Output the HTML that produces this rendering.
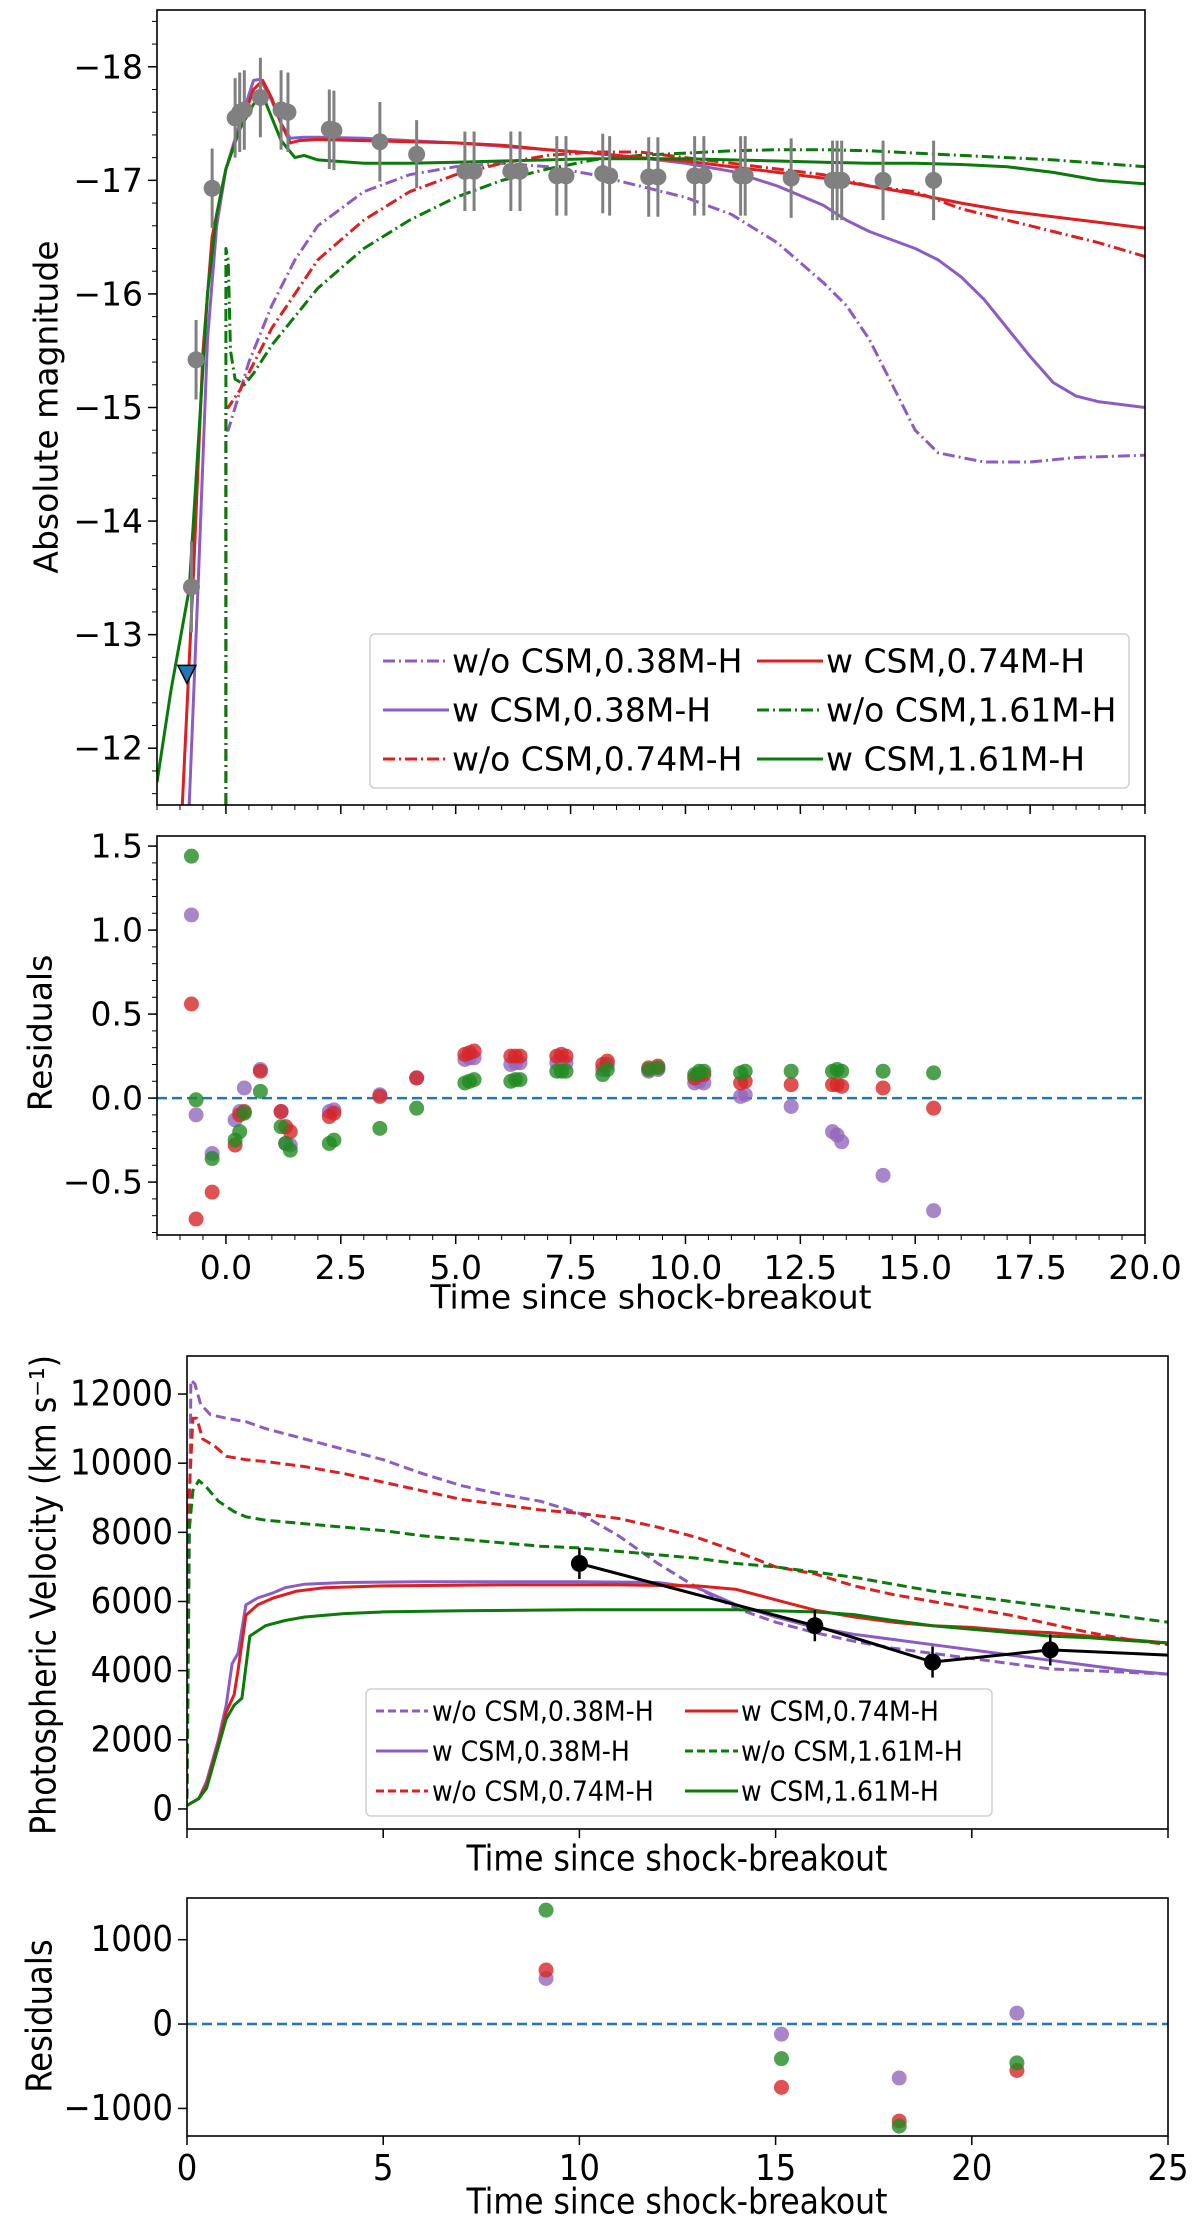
<!DOCTYPE html>
<html><head><meta charset="utf-8"><style>
html,body{margin:0;padding:0;background:#fff;}
svg{display:block;font-family:"DejaVu Sans","Liberation Sans",sans-serif;}
.cond{font-family:"DejaVu Sans Condensed","DejaVu Sans","Liberation Sans Narrow",sans-serif;}
</style></head><body>
<svg id="fig" width="1200" height="2224" viewBox="0 0 1200 2224" xmlns="http://www.w3.org/2000/svg"></svg>
<script>
// ---------- Panel 1 data: light curves ----------
const obsT = [-0.75,-0.65,-0.3,0.2,0.3,0.4,0.75,1.2,1.35,2.25,2.35,3.35,4.15,5.2,5.4,6.2,6.4,7.2,7.4,8.2,8.35,9.2,9.4,10.2,10.4,11.2,11.3,12.3,13.2,13.3,13.4,14.3,15.4];
const obsMag = [-13.42,-15.42,-16.93,-17.55,-17.6,-17.62,-17.73,-17.62,-17.6,-17.45,-17.44,-17.34,-17.23,-17.08,-17.08,-17.08,-17.08,-17.04,-17.04,-17.06,-17.04,-17.03,-17.03,-17.04,-17.04,-17.04,-17.04,-17.02,-17.0,-17.0,-17.0,-17.0,-17.0];
const obsErr = [0.4,0.35,0.35,0.35,0.35,0.35,0.35,0.35,0.35,0.35,0.35,0.35,0.3,0.35,0.35,0.35,0.35,0.35,0.35,0.35,0.35,0.35,0.35,0.35,0.35,0.35,0.35,0.35,0.35,0.35,0.35,0.35,0.35];
const limitT = [-0.85];
const limitMag = [-12.65];
const lcWo038 = [[0,-11.5],[0,-14.8],[0.05,-14.8],[0.5,-15.4],[1,-15.9],[1.5,-16.3],[2,-16.6],[3,-16.9],[4,-17.05],[5,-17.12],[6,-17.15],[7,-17.12],[8,-17.05],[9,-16.95],[10,-16.85],[11,-16.7],[12,-16.45],[13,-16.1],[13.5,-15.9],[14,-15.6],[14.5,-15.2],[15,-14.8],[15.5,-14.6],[16.5,-14.52],[17.5,-14.52],[18.5,-14.56],[20,-14.58]];
const lcWo074 = [[0,-11.5],[0,-15.0],[0.05,-15.0],[0.3,-15.15],[1,-15.7],[2,-16.3],[3,-16.65],[4,-16.9],[5,-17.05],[6,-17.15],[7,-17.22],[8,-17.25],[9,-17.25],[10,-17.2],[11,-17.15],[12,-17.1],[13,-17.05],[14,-16.95],[15,-16.9],[16,-16.75],[17,-16.65],[18,-16.55],[19,-16.45],[20,-16.33]];
const lcWo161 = [[0,-11.5],[0,-16.4],[0.05,-16.3],[0.1,-15.5],[0.2,-15.25],[0.4,-15.2],[0.6,-15.3],[1,-15.55],[2,-16.05],[3,-16.4],[4,-16.65],[5,-16.85],[6,-17.0],[7,-17.1],[8,-17.18],[9,-17.22],[10,-17.24],[11,-17.26],[12,-17.27],[13,-17.27],[14,-17.26],[15,-17.24],[16,-17.22],[17,-17.2],[18,-17.18],[19,-17.15],[20,-17.12]];
const lcW038 = [[-0.8,-11.5],[-0.6,-13.5],[-0.4,-15.6],[-0.2,-16.6],[0,-17.1],[0.3,-17.5],[0.6,-17.88],[0.75,-17.89],[1,-17.7],[1.2,-17.5],[1.4,-17.37],[1.7,-17.38],[2,-17.38],[3,-17.37],[4,-17.35],[5,-17.33],[6,-17.3],[7,-17.27],[8,-17.24],[9,-17.2],[10,-17.15],[11,-17.08],[12,-16.95],[13,-16.78],[13.5,-16.65],[14,-16.55],[15,-16.4],[15.5,-16.3],[16,-16.15],[16.5,-15.95],[17,-15.7],[17.5,-15.45],[18,-15.22],[18.5,-15.1],[19,-15.05],[20,-15.0]];
const lcW074 = [[-0.95,-11.5],[-0.7,-13.6],[-0.5,-15.5],[-0.3,-16.5],[0,-17.1],[0.3,-17.45],[0.6,-17.8],[0.8,-17.88],[1,-17.72],[1.2,-17.5],[1.4,-17.33],[1.6,-17.35],[2,-17.36],[3,-17.35],[4,-17.34],[5,-17.33],[6,-17.31],[7,-17.27],[8,-17.24],[9,-17.2],[10,-17.17],[11,-17.12],[12,-17.07],[13,-17.02],[14,-16.95],[15,-16.88],[16,-16.8],[17,-16.73],[18,-16.68],[19,-16.63],[20,-16.58]];
const lcW161 = [[-1.5,-11.7],[-1.2,-12.5],[-0.8,-13.4],[-0.6,-14.7],[-0.4,-16.0],[-0.2,-16.7],[0,-17.1],[0.3,-17.45],[0.6,-17.67],[0.8,-17.75],[1,-17.55],[1.2,-17.35],[1.5,-17.2],[1.7,-17.22],[2,-17.18],[3,-17.15],[4,-17.15],[5,-17.16],[6,-17.17],[7,-17.18],[8,-17.19],[9,-17.19],[10,-17.19],[11,-17.18],[12,-17.17],[13,-17.16],[14,-17.15],[15,-17.15],[16,-17.14],[17,-17.12],[18,-17.07],[19,-17.0],[20,-16.97]];
// ---------- Panel 2 data: magnitude residuals ----------
const resT = [-0.75,-0.65,-0.3,0.2,0.3,0.4,0.75,1.2,1.3,1.4,2.25,2.35,3.35,4.15,5.2,5.3,5.4,6.2,6.3,6.4,7.2,7.3,7.4,8.2,8.3,9.2,9.4,10.2,10.3,10.4,11.2,11.3,12.3,13.2,13.3,13.4,14.3,15.4];
const resPurple = [1.09,-0.1,-0.33,-0.13,-0.08,0.06,0.17,-0.08,-0.27,-0.28,-0.08,-0.07,0.02,0.12,0.23,0.24,0.24,0.2,0.21,0.21,0.21,0.22,0.21,0.17,0.2,0.16,0.17,0.09,0.1,0.09,0.01,0.02,-0.05,-0.2,-0.22,-0.26,-0.46,-0.67];
const resRed = [0.56,-0.72,-0.56,-0.28,-0.1,-0.08,0.16,-0.08,-0.17,-0.2,-0.11,-0.09,0.01,0.12,0.26,0.27,0.28,0.25,0.25,0.25,0.25,0.26,0.25,0.2,0.22,0.18,0.19,0.12,0.14,0.14,0.09,0.1,0.08,0.08,0.08,0.07,0.06,-0.06];
const resGreen = [1.44,-0.01,-0.36,-0.25,-0.2,-0.09,0.04,-0.17,-0.27,-0.31,-0.27,-0.25,-0.18,-0.06,0.09,0.1,0.11,0.1,0.11,0.11,0.16,0.16,0.16,0.14,0.17,0.17,0.18,0.14,0.16,0.16,0.15,0.16,0.16,0.16,0.17,0.16,0.16,0.15];
// ---------- Panel 3 data: velocities ----------
const velWo038 = [[0,300],[0.1,12400],[0.2,12300],[0.35,11700],[0.6,11400],[1,11300],[1.5,11200],[2,11000],[3,10700],[4,10400],[5,10100],[6,9700],[7,9350],[8,9100],[9,8900],[10,8550],[11,7900],[12,7100],[13,6400],[14,5800],[15,5400],[16,5100],[17,4850],[18,4650],[19,4500],[20,4350],[21,4200],[22,4050],[23,4000],[24,3950],[25,3900]];
const velWo074 = [[0,300],[0.05,9000],[0.15,11300],[0.25,11300],[0.4,10700],[0.7,10500],[1,10200],[1.5,10100],[2,10050],[3,9900],[4,9700],[5,9450],[6,9200],[7,8950],[8,8800],[9,8650],[10,8550],[11,8400],[12,8150],[13,7850],[14,7450],[15,7000],[16,6800],[17,6450],[18,6200],[19,6000],[20,5800],[21,5600],[22,5350],[23,5100],[24,4900],[25,4750]];
const velWo161 = [[0,300],[0.05,8000],[0.15,9200],[0.3,9500],[0.5,9300],[0.8,8900],[1.2,8600],[1.5,8450],[2,8350],[3,8250],[4,8150],[5,8050],[6,7900],[7,7800],[8,7700],[9,7600],[10,7550],[11,7450],[12,7350],[13,7250],[14,7100],[15,7000],[16,6850],[17,6700],[18,6500],[19,6300],[20,6150],[21,6000],[22,5850],[23,5700],[24,5550],[25,5400]];
const velW038 = [[0,100],[0.3,300],[0.5,800],[0.8,2000],[1.0,3000],[1.15,4200],[1.3,4500],[1.5,5900],[1.8,6100],[2.2,6250],[2.5,6400],[3,6500],[4,6550],[5,6560],[6,6570],[8,6570],[10,6570],[12,6550],[13,6400],[14,5900],[15,5550],[16,5250],[17,5050],[18,4900],[19,4750],[20,4600],[21,4450],[22,4300],[23,4150],[24,4000],[25,3900]];
const velW074 = [[0,100],[0.3,300],[0.5,700],[0.8,1900],[1.0,2800],[1.2,3300],[1.3,4000],[1.5,5600],[1.8,5900],[2.2,6100],[2.8,6300],[3.5,6400],[5,6450],[8,6480],[11,6480],[13,6450],[14,6350],[15,6050],[16,5750],[17,5550],[18,5400],[19,5300],[20,5250],[21,5150],[22,5100],[23,5000],[24,4900],[25,4800]];
const velW161 = [[0,100],[0.3,300],[0.5,600],[0.8,1800],[1,2600],[1.2,3000],[1.4,3200],[1.6,5000],[2,5300],[2.5,5450],[3,5550],[4,5650],[5,5700],[7,5730],[10,5760],[14,5760],[16,5700],[17,5620],[18,5450],[19,5300],[20,5200],[21,5100],[22,5000],[23,4950],[24,4870],[25,4800]];
const velObsT = [10,16,19,22];
const velObsV = [7100,5300,4250,4600];
const velObsErr = [450,450,450,450];
const velObsLineEnd = [25,4450];
// ---------- Panel 4 data: velocity residuals ----------
const vresT = [9.15,15.15,18.15,21.15];
const vresPurple = [540,-120,-640,130];
const vresRed = [640,-750,-1150,-550];
const vresGreen = [1350,-410,-1210,-460];
// ---------- tick labels ----------
const p1YTicks = [-18,-17,-16,-15,-14,-13,-12];
const p12XTicks = [0,2.5,5,7.5,10,12.5,15,17.5,20];
const p12XTickLabels = ["0.0","2.5","5.0","7.5","10.0","12.5","15.0","17.5","20.0"];
const p2YTicks = [1.5,1.0,0.5,0.0,-0.5];
const p2YTickLabels = ["1.5","1.0","0.5","0.0","\u22120.5"];
const p3YTicks = [0,2000,4000,6000,8000,10000,12000];
const p34XTicks = [0,5,10,15,20,25];
const p4YTicks = [1000,0,-1000];
const p4YTickLabels = ["1000","0","\u22121000"];

const NS = "http://www.w3.org/2000/svg";
const svg = document.getElementById('fig');
const PURPLE = "#9467bd", RED = "#d62728", GREEN = "#0b7a0b";
const DPURPLE = "#8c5cc4", DRED = "#dc1f1f";
function mk(tag, attrs, parent) {
  const e = document.createElementNS(NS, tag);
  for (const k in attrs) e.setAttribute(k, attrs[k]);
  (parent || svg).appendChild(e);
  return e;
}
function lin(d0, d1, p0, p1) { return v => p0 + (v - d0) * (p1 - p0) / (d1 - d0); }
function pathD(pts, sx, sy) { return pts.map((p, i) => (i ? "L" : "M") + sx(p[0]).toFixed(1) + "," + sy(p[1]).toFixed(1)).join(""); }

const P1 = {x0:157, x1:1145, y0:10, y1:805};
const P2 = {x0:157, x1:1145, y0:836, y1:1235};
const P3 = {x0:187, x1:1168, y0:1356, y1:1829};
const P4 = {x0:187, x1:1168, y0:1898, y1:2136};
const x12 = lin(-1.5, 20, P1.x0, P1.x1);
const y1 = lin(-18.5, -11.5, P1.y0, P1.y1);
const y2 = lin(1.56, -0.815, P2.y0, P2.y1);
const x34 = lin(0, 25, P3.x0, P3.x1);
const y3 = lin(13100, -580, P3.y0, P3.y1);
const y4 = lin(1494, -1327, P4.y0, P4.y1);

const defs = mk('defs', {});
[['c1',P1],['c2',P2],['c3',P3],['c4',P4]].forEach(([id,P]) => {
  const cp = mk('clipPath', {id:id}, defs);
  mk('rect', {x:P.x0, y:P.y0, width:P.x1-P.x0, height:P.y1-P.y0}, cp);
});

function tickY(P, y, len, lbl, cls, fs, name) {
  const t = mk('line', {x1:P.x0, x2:P.x0-len, y1:y, y2:y, stroke:'#000', 'stroke-width':1.5});
  
  
  if (lbl !== null) {
    const tx = mk('text', {x:P.x0-14, y:y, 'text-anchor':'end', 'dominant-baseline':'central', 'font-size':fs, fill:'#000'});
    if (cls) tx.setAttribute('class', cls);
    tx.textContent = lbl;
    
    
  }
}
function tickX(P, x, len, lbl, cls, fs, name) {
  const t = mk('line', {x1:x, x2:x, y1:P.y1, y2:P.y1+len, stroke:'#000', 'stroke-width':1.5});
  
  
  if (lbl !== null) {
    const tx = mk('text', {x:x, y:P.y1+44, 'text-anchor':'middle', 'font-size':fs, fill:'#000'});
    if (cls) tx.setAttribute('class', cls);
    tx.textContent = lbl;
    
    
  }
}
function frame(P, name) {
  const r = mk('rect', {x:P.x0, y:P.y0, width:P.x1-P.x0, height:P.y1-P.y0, fill:'none', stroke:'#000', 'stroke-width':1.6});
  
  
}
function curve(pts, sx, sy, color, dash, clip, name, lw) {
  const p = mk('path', {d:pathD(pts, sx, sy), fill:'none', stroke:color, 'stroke-width':lw||3, 'stroke-linejoin':'round', 'clip-path':'url(#'+clip+')'});
  if (dash) p.setAttribute('stroke-dasharray', dash);
  
  
}
function label(x, y, txt, fs, rot, cls, name, tl) {
  const t = mk('text', {x:x, y:y, 'text-anchor':'middle', 'dominant-baseline':'central', 'font-size':fs, fill:'#000'});
  if (rot) t.setAttribute('transform', 'rotate(-90 ' + x + ' ' + y + ')');
  if (cls) t.setAttribute('class', cls);
  if (tl) { t.setAttribute('textLength', tl); t.setAttribute('lengthAdjust', 'spacingAndGlyphs'); }
  t.textContent = txt;
  
  
  return t;
}
const DD = "12,4,2,4", DS = "10,5";

// ================= Panel 1 =================
for (let v = -18.4; v <= -11.5; v += 0.2) {
  const m = mk('line', {x1:P1.x0, x2:P1.x0-5, y1:y1(v), y2:y1(v), stroke:'#000', 'stroke-width':1});
  
  
}
for (let v = -1.5; v <= 20.01; v += 0.5) {
  const m = mk('line', {x1:x12(v), x2:x12(v), y1:P1.y1, y2:P1.y1+5, stroke:'#000', 'stroke-width':1});
  
  
  const m2 = mk('line', {x1:x12(v), x2:x12(v), y1:P2.y1, y2:P2.y1+5, stroke:'#000', 'stroke-width':1});
  
  
}
p1YTicks.forEach(v => tickY(P1, y1(v), 9, "\u2212" + Math.abs(v), null, 33, 'mag-y'));
p12XTicks.forEach(v => tickX(P1, x12(v), 9, null, null, 33, 'lc-x'));
curve(lcWo038, x12, y1, DPURPLE, DD, 'c1', 'curve-wo-csm-038');
curve(lcWo074, x12, y1, DRED, DD, 'c1', 'curve-wo-csm-074');
curve(lcWo161, x12, y1, GREEN, DD, 'c1', 'curve-wo-csm-161');
curve(lcW038, x12, y1, DPURPLE, null, 'c1', 'curve-w-csm-038');
curve(lcW074, x12, y1, DRED, null, 'c1', 'curve-w-csm-074');
curve(lcW161, x12, y1, GREEN, null, 'c1', 'curve-w-csm-161');
obsT.forEach((t, i) => {
  const e = mk('line', {x1:x12(t), x2:x12(t), y1:y1(obsMag[i]-obsErr[i]), y2:y1(obsMag[i]+obsErr[i]), stroke:'#808080', 'stroke-width':3});
  
  
  const c = mk('circle', {cx:x12(t), cy:y1(obsMag[i]), r:8.5, fill:'#808080'});
  
  
});
limitT.forEach((t, i) => {
  const x = x12(t), y = y1(limitMag[i]);
  const tri = mk('polygon', {points:(x-9)+','+(y-9)+' '+(x+9)+','+(y-9)+' '+x+','+(y+9), fill:'#1f77b4', stroke:'#000', 'stroke-width':1.5});
  
  
});
frame(P1, 'lightcurve-panel-frame');
label(46, 407, 'Absolute magnitude', 33, true, null, 'mag-y-axis-title');

function legend(box, rows, name, fs, cls) {
  const g = mk('g', {});
  
  
  mk('rect', {x:box.x, y:box.y, width:box.w, height:box.h, rx:5, fill:'#fff', 'fill-opacity':0.8, stroke:'#d0d0d0', 'stroke-width':1.5}, g);
  rows.forEach(r => {
    const l = mk('line', {x1:r.lx0, x2:r.lx1, y1:r.y, y2:r.y, stroke:r.c, 'stroke-width':3}, g);
    if (r.d) l.setAttribute('stroke-dasharray', r.d);
    
    
    const t = mk('text', {x:r.tx, y:r.y, 'dominant-baseline':'central', 'font-size':fs, fill:'#000'}, g);
    if (cls) t.setAttribute('class', cls);
    t.textContent = r.t;
    
    
  });
}
legend({x:370, y:634, w:759, h:154}, [
  {lx0:383, lx1:449, tx:452, y:661, c:DPURPLE, d:DD, t:'w/o CSM,0.38M-H'},
  {lx0:383, lx1:449, tx:452, y:710, c:DPURPLE, d:null, t:'w CSM,0.38M-H'},
  {lx0:383, lx1:449, tx:452, y:759, c:DRED, d:DD, t:'w/o CSM,0.74M-H'},
  {lx0:757, lx1:823, tx:826, y:661, c:DRED, d:null, t:'w CSM,0.74M-H'},
  {lx0:757, lx1:823, tx:826, y:710, c:GREEN, d:DD, t:'w/o CSM,1.61M-H'},
  {lx0:757, lx1:823, tx:826, y:759, c:GREEN, d:null, t:'w CSM,1.61M-H'}
], 'lightcurve-legend', 33, null);

// ================= Panel 2 =================
for (let v = -0.8; v <= 1.55; v += 0.1) {
  const m = mk('line', {x1:P2.x0, x2:P2.x0-5, y1:y2(v), y2:y2(v), stroke:'#000', 'stroke-width':1});
  
  
}
p2YTicks.forEach((v, i) => tickY(P2, y2(v), 9, p2YTickLabels[i], null, 33, 'mag-res-y'));
p12XTicks.forEach((v, i) => tickX(P2, x12(v), 9, p12XTickLabels[i], null, 33, 'time-x'));
const z2 = mk('line', {x1:P2.x0, x2:P2.x1, y1:y2(0), y2:y2(0), stroke:'#1f77b4', 'stroke-width':2.5, 'stroke-dasharray':'10,5'});


[[resPurple, PURPLE, 'residual-w-csm-038'], [resRed, RED, 'residual-w-csm-074'], [resGreen, '#228b22', 'residual-w-csm-161']].forEach(([arr, col, nm]) => {
  arr.forEach((v, i) => {
    const c = mk('circle', {cx:x12(resT[i]), cy:y2(v), r:7.5, fill:col, 'fill-opacity':0.8, 'clip-path':'url(#c2)'});
    
    
  });
});
frame(P2, 'mag-residual-panel-frame');
label(40, 1033, 'Residuals', 33, true, null, 'mag-res-y-axis-title');
label(651, 1297, 'Time since shock-breakout', 33, false, null, 'lc-x-axis-title');

// ================= Panel 3 =================
p3YTicks.forEach(v => tickY(P3, y3(v), 9, String(v), 'cond', 36, 'vel-y'));
p34XTicks.forEach(v => tickX(P3, x34(v), 9, null, null, 36, 'vel-x'));
curve(velWo038, x34, y3, DPURPLE, DS, 'c3', 'vel-wo-csm-038');
curve(velWo074, x34, y3, DRED, DS, 'c3', 'vel-wo-csm-074');
curve(velWo161, x34, y3, GREEN, DS, 'c3', 'vel-wo-csm-161');
curve(velW038, x34, y3, DPURPLE, null, 'c3', 'vel-w-csm-038');
curve(velW074, x34, y3, DRED, null, 'c3', 'vel-w-csm-074');
curve(velW161, x34, y3, GREEN, null, 'c3', 'vel-w-csm-161');
const obsLine = velObsT.map((t, i) => [t, velObsV[i]]).concat([velObsLineEnd]);
curve(obsLine, x34, y3, '#000', null, 'c3', 'observed-velocity-line');
velObsT.forEach((t, i) => {
  const e = mk('line', {x1:x34(t), x2:x34(t), y1:y3(velObsV[i]+velObsErr[i]), y2:y3(velObsV[i]-velObsErr[i]), stroke:'#000', 'stroke-width':2.5});
  
  
  const c = mk('circle', {cx:x34(t), cy:y3(velObsV[i]), r:8.5, fill:'#000'});
  
  
});
frame(P3, 'velocity-panel-frame');
label(44, 1595, 'Photospheric Velocity (km s\u207B\u00B9)', 36, true, 'cond', 'vel-y-axis-title', 480);
label(677, 1859, 'Time since shock-breakout', 36, false, 'cond', 'vel-x-axis-title', 421);
legend({x:366, y:1689, w:626, h:127}, [
  {lx0:376, lx1:428, tx:432, y:1711, c:DPURPLE, d:'8,4', t:'w/o CSM,0.38M-H'},
  {lx0:376, lx1:428, tx:432, y:1751, c:DPURPLE, d:null, t:'w CSM,0.38M-H'},
  {lx0:376, lx1:428, tx:432, y:1791, c:DRED, d:'8,4', t:'w/o CSM,0.74M-H'},
  {lx0:685, lx1:738, tx:741, y:1711, c:DRED, d:null, t:'w CSM,0.74M-H'},
  {lx0:685, lx1:738, tx:741, y:1751, c:GREEN, d:'8,4', t:'w/o CSM,1.61M-H'},
  {lx0:685, lx1:738, tx:741, y:1791, c:GREEN, d:null, t:'w CSM,1.61M-H'}
], 'velocity-legend', 28, 'cond');

// ================= Panel 4 =================
p4YTicks.forEach((v, i) => tickY(P4, y4(v), 9, p4YTickLabels[i], 'cond', 36, 'vel-res-y'));
p34XTicks.forEach(v => tickX(P4, x34(v), 9, String(v), 'cond', 36, 'vel-res-x'));
const z4 = mk('line', {x1:P4.x0, x2:P4.x1, y1:y4(0), y2:y4(0), stroke:'#1f77b4', 'stroke-width':2.5, 'stroke-dasharray':'10,5'});


[[vresPurple, PURPLE, 'vel-residual-w-csm-038'], [vresRed, RED, 'vel-residual-w-csm-074'], [vresGreen, '#228b22', 'vel-residual-w-csm-161']].forEach(([arr, col, nm]) => {
  arr.forEach((v, i) => {
    const c = mk('circle', {cx:x34(vresT[i]), cy:y4(v), r:7.5, fill:col, 'fill-opacity':0.8, 'clip-path':'url(#c4)'});
    
    
  });
});
frame(P4, 'vel-residual-panel-frame');
label(40, 2016, 'Residuals', 36, true, 'cond', 'vel-res-y-axis-title');
label(677, 2202, 'Time since shock-breakout', 36, false, 'cond', 'vel-res-x-axis-title', 421);
</script>
</body></html>
